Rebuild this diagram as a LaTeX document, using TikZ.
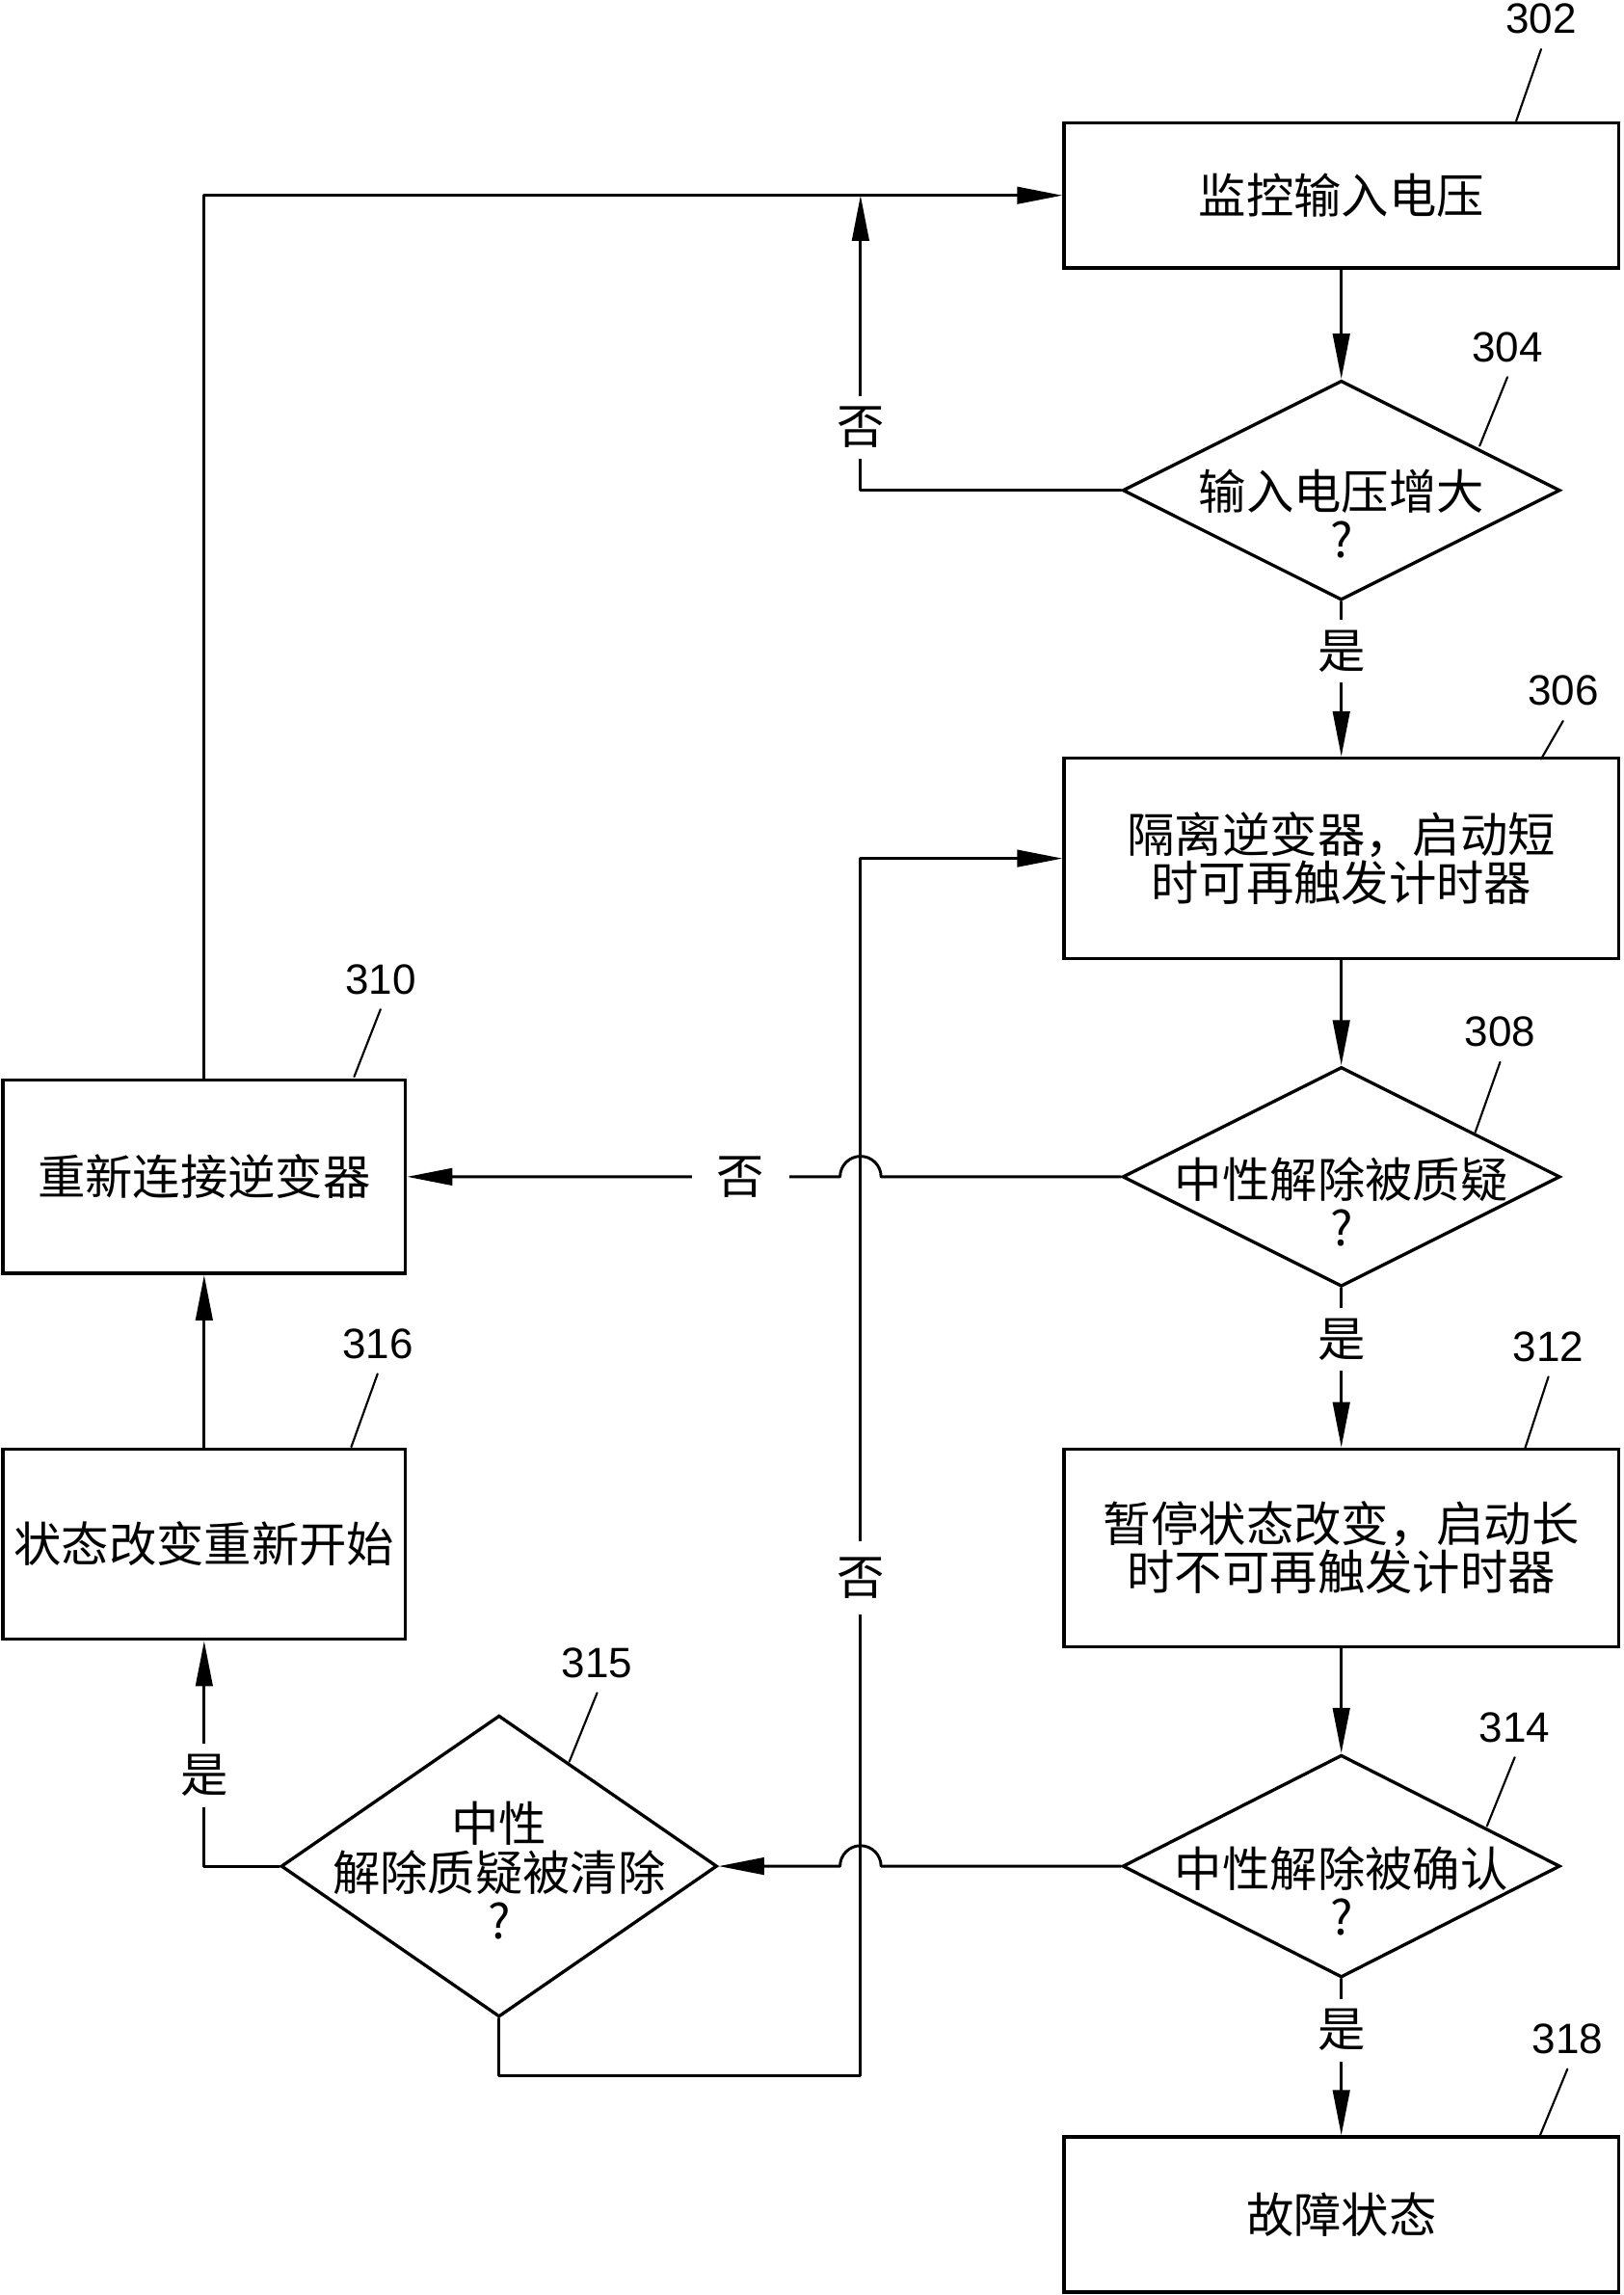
\documentclass[tikz,border=0pt]{standalone}
\usepackage{fontspec}
\newfontfamily\cjk{Noto Sans CJK SC}
\newfontfamily\numfont{Liberation Sans}
\newcommand{\txtfont}{\cjk\fontsize{18.5pt}{18.8pt}\selectfont}
\usetikzlibrary{arrows.meta,shapes.geometric}

\begin{document}
\begin{tikzpicture}[line cap=round,line join=round,>={Triangle[length=6.2mm,width=2.3mm]},x=0.02cm,y=-0.02cm,
	box/.style={draw,line width=1.25pt,line join=miter,inner sep=0pt,align=center,font=\txtfont},
	dec/.style={draw,diamond,line width=1.25pt,line join=miter,inner sep=0pt},
	txt/.style={inner sep=0pt,align=center,font=\txtfont},
	yn/.style={fill=white,inner sep=0pt,minimum width=0.7cm,minimum height=0.86cm,font=\txtfont},
	num/.style={inner sep=0pt,font=\numfont\fontsize{16.5pt}{18pt}\selectfont},
	flow/.style={line width=1.1pt},
	lead/.style={line width=0.8pt}]
		\useasboundingbox (0,0) rectangle (1109,1568);
		% boxes
		\node[box,minimum width=7.58cm,minimum height=1.98cm] (b302) at (916.5,133.5) {监控输入电压};
		\node[box,minimum width=7.58cm,minimum height=2.74cm] (b306) at (916.5,586.5) {隔离逆变器，启动短\\时可再触发计时器};
		\node[box,minimum width=5.5cm,minimum height=2.64cm] (b310) at (139.5,804) {重新连接逆变器};
		\node[box,minimum width=7.58cm,minimum height=2.7cm] (b312) at (916.5,1057.5) {暂停状态改变，启动长\\时不可再触发计时器};
		\node[box,minimum width=5.5cm,minimum height=2.6cm] (b316) at (139.5,1055) {状态改变重新开始};
		\node[box,minimum width=7.58cm,minimum height=2.12cm] (b318) at (916.5,1513) {故障状态};
		% decisions
		\node[dec,minimum width=5.98cm,minimum height=3cm] (d304) at (916.5,335) {};
		\node[txt] (t304) at (916.5,351) {输入电压增大\\?};
		\node[dec,minimum width=5.98cm,minimum height=3cm] (d308) at (916.5,804) {};
		\node[txt] (t308) at (916.5,821) {中性解除被质疑\\?};
		\node[dec,minimum width=5.98cm,minimum height=3.04cm] (d314) at (916.5,1275) {};
		\node[txt] (t314) at (916.5,1292) {中性解除被确认\\?};
		\node[dec,minimum width=5.96cm,minimum height=4.12cm] (d315) at (341,1275) {};
		\node[txt] (t315) at (341,1278) {中性\\解除质疑被清除\\?};
		% joints
		\coordinate (c1) at (588,133.5);
		\coordinate (c2) at (588,1418);
		\coordinate (c3) at (588,804);
		\coordinate (c4) at (588,1275);
		% connectors
		\draw[flow,->] (b302) -- (d304);
		\draw[flow,->] (d304) -- (b306);
		\draw[flow,->] (b306) -- (d308);
		\draw[flow,->] (d308) -- (b312);
		\draw[flow,->] (b312) -- (d314);
		\draw[flow,->] (d314) -- (b318);
		\draw[flow,->] (b316) -- (b310);
		\draw[flow,->] (d304.west) -| (c1);
		\draw[flow,->] (b310.north) |- (b302.west);
		\draw[flow,->] (d315.south) |- (c2) |- (b306.west);
		\draw[flow,->] (d315.west) -| (b316.south);
		\draw[flow,->] (d308.west) -- ([xshift=0.28cm]c3) arc[start angle=0,end angle=180,radius=0.28cm] -- (b310.east);
		\draw[flow,->] (d314.west) -- ([xshift=0.28cm]c4) arc[start angle=0,end angle=180,radius=0.28cm] -- (d315.east);
		% yes / no
		\node[yn] (y1) at (916.5,445) {是};
		\node[yn] (y2) at (916.5,915) {是};
		\node[yn] (y3) at (916.5,1387) {是};
		\node[yn] (y4) at (139.5,1213) {是};
		\node[yn] (n1) at (588,292) {否};
		\node[yn,minimum height=1cm] (n2) at (588,1078) {否};
		\node[yn,minimum width=1.34cm] (n3) at (506,804) {否};
		% reference numbers
		\node[num] (l302) at (1053,13) {302};
		\draw[lead] ([yshift=-2mm]l302.south) -- ++(-17,49);
		\node[num] (l304) at (1030,237) {304};
		\draw[lead] ([yshift=-2mm]l304.south) -- ++(-19,47);
		\node[num] (l306) at (1068,472) {306};
		\draw[lead] ([yshift=-2mm]l306.south) -- ++(-15,26);
		\node[num] (l308) at (1025,705) {308};
		\draw[lead] ([yshift=-2mm]l308.south) -- ++(-17,48);
		\node[num] (l310) at (260,669) {310};
		\draw[lead] ([yshift=-2mm]l310.south) -- ++(-18,46);
		\node[num] (l312) at (1058,920) {312};
		\draw[lead] ([yshift=-2mm]l312.south) -- ++(-16,49);
		\node[num] (l314) at (1035,1180) {314};
		\draw[lead] ([yshift=-2mm]l314.south) -- ++(-19,47);
		\node[num] (l315) at (408,1136) {315};
		\draw[lead] ([yshift=-2mm]l315.south) -- ++(-19,47);
		\node[num] (l316) at (258,918) {316};
		\draw[lead] ([yshift=-2mm]l316.south) -- ++(-18,50);
		\node[num] (l318) at (1071,1393) {318};
		\draw[lead] ([yshift=-2mm]l318.south) -- ++(-19,46);
	\end{tikzpicture}
\end{document}
